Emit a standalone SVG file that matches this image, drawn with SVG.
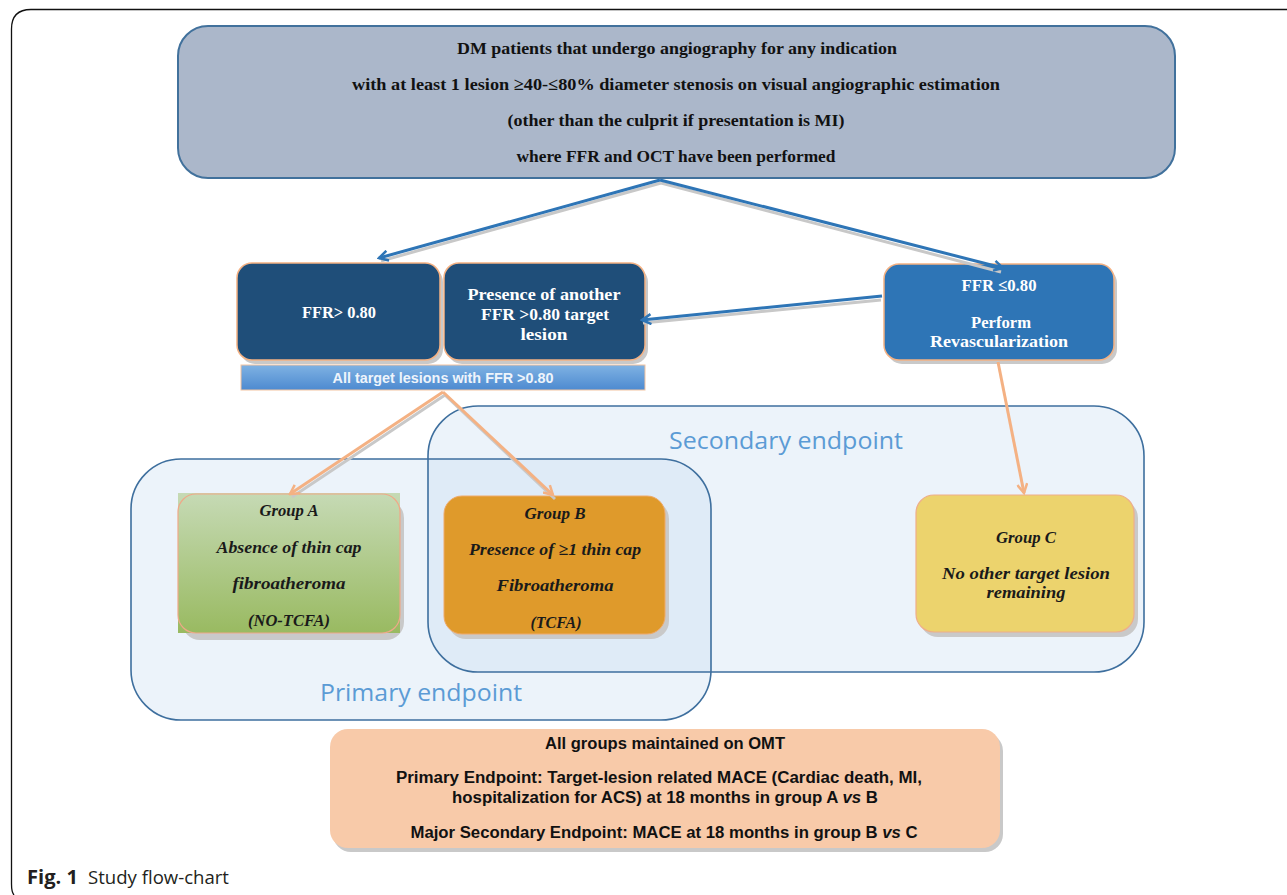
<svg xmlns="http://www.w3.org/2000/svg" width="1287" height="895" viewBox="0 0 1287 895">
<defs>
<style>
.serifb{font-family:"Liberation Serif","DejaVu Serif",serif;font-weight:bold;}
.serifbi{font-family:"Liberation Serif","DejaVu Serif",serif;font-weight:bold;font-style:italic;fill:#1a1a1a;font-size:17px;}
.sansb{font-family:"Liberation Sans",Arial,sans-serif;font-weight:bold;}
.end{font-family:"Open Sans","Liberation Sans",sans-serif;fill:#5b9bd5;font-size:24px;}
.blueline{fill:none;stroke:#2e75b6;stroke-width:3;}
.orangeline{fill:none;stroke:#f4b183;stroke-width:3;}
.shadowline{fill:none;stroke:#c8c8c8;stroke-width:3;}
.shadow{fill:#c9c9c9;}
.endbox{fill:#c9dcf0;fill-opacity:0.35;stroke:none;}
.endstroke{fill:none;stroke:#3e6f9e;stroke-width:1.6;}
.darkbox{fill:#1f4e79;stroke:#f4b183;stroke-width:1.5;}
</style>
<marker id="ab" viewBox="0 0 12 12" refX="10" refY="6" markerWidth="12" markerHeight="12" markerUnits="userSpaceOnUse" orient="auto">
<path d="M1,1 L10,6 L1,11" fill="none" stroke="#2e75b6" stroke-width="2.5"/>
</marker>
<marker id="ao" viewBox="0 0 12 12" refX="10" refY="6" markerWidth="12" markerHeight="12" markerUnits="userSpaceOnUse" orient="auto">
<path d="M1,1 L10,6 L1,11" fill="none" stroke="#f4b183" stroke-width="2.5"/>
</marker>
<linearGradient id="gbar" x1="0" y1="0" x2="0" y2="1">
<stop offset="0" stop-color="#7fb2e3"/>
<stop offset="1" stop-color="#4d8ad0"/>
</linearGradient>
<linearGradient id="ggreen" x1="0" y1="0" x2="0" y2="1">
<stop offset="0" stop-color="#c6dab5"/>
<stop offset="1" stop-color="#99ba61"/>
</linearGradient>
</defs>

<rect width="1287" height="895" fill="#ffffff"/>

<!-- frame -->
<path d="M1287,9.5 H31 Q11.5,9.5 11.5,29 V884 Q11.5,892 14,895" fill="none" stroke="#111" stroke-width="1.3"/>

<!-- endpoint regions -->
<g id="secondary-endpoint">
<rect class="endbox" x="428" y="406" width="716" height="266" rx="50"/>
</g>
<g id="primary-endpoint">
<rect class="endbox" x="131" y="459" width="580" height="261" rx="50"/>
</g>
<rect class="endstroke" x="428" y="406" width="716" height="266" rx="50"/>
<rect class="endstroke" x="131" y="459" width="580" height="261" rx="50"/>
<text class="end" x="786" y="449" text-anchor="middle" textLength="234" lengthAdjust="spacingAndGlyphs">Secondary endpoint</text>
<text class="end" x="421" y="701" text-anchor="middle" textLength="202" lengthAdjust="spacingAndGlyphs">Primary endpoint</text>

<!-- top box -->
<g id="top">
<rect x="178" y="26" width="997" height="152" rx="30" fill="#abb7ca" stroke="#41719c" stroke-width="2"/>
<text class="serifb" font-size="17.5" fill="#111" text-anchor="middle" x="677" y="54" textLength="440" lengthAdjust="spacingAndGlyphs">DM patients that undergo angiography for any indication</text>
<text class="serifb" font-size="17.5" fill="#111" text-anchor="middle" x="676" y="90" textLength="648" lengthAdjust="spacingAndGlyphs">with at least 1 lesion ≥40-≤80% diameter stenosis on visual angiographic estimation</text>
<text class="serifb" font-size="17.5" fill="#111" text-anchor="middle" x="676" y="126" textLength="337" lengthAdjust="spacingAndGlyphs">(other than the culprit if presentation is MI)</text>
<text class="serifb" font-size="17.5" fill="#111" text-anchor="middle" x="676" y="162" textLength="319" lengthAdjust="spacingAndGlyphs">where FFR and OCT have been performed</text>
</g>

<!-- FFR > 0.80 -->
<g id="ffr-gt">
<rect class="shadow" x="240" y="267" width="203" height="97" rx="15"/>
<rect class="darkbox" x="237" y="263" width="203" height="97" rx="15"/>
<text class="serifb" font-size="17" fill="#fff" text-anchor="middle" x="339" y="318" textLength="74" lengthAdjust="spacingAndGlyphs">FFR&gt; 0.80</text>
</g>

<g id="presence">
<rect class="shadow" x="447" y="267" width="201" height="97" rx="15"/>
<rect class="darkbox" x="444" y="263" width="201" height="97" rx="15"/>
<text class="serifb" font-size="17" fill="#fff" text-anchor="middle" x="544" y="300" textLength="153" lengthAdjust="spacingAndGlyphs">Presence of another</text>
<text class="serifb" font-size="17" fill="#fff" text-anchor="middle" x="545" y="320" textLength="128" lengthAdjust="spacingAndGlyphs">FFR &gt;0.80 target</text>
<text class="serifb" font-size="17" fill="#fff" text-anchor="middle" x="544" y="340" textLength="47" lengthAdjust="spacingAndGlyphs">lesion</text>
</g>

<g id="all-target">
<rect x="241" y="365" width="404" height="25" fill="url(#gbar)" stroke="#f4c4a0" stroke-width="1"/>
<text class="sansb" font-size="14" fill="#eef4fb" text-anchor="middle" x="443" y="383" textLength="221" lengthAdjust="spacingAndGlyphs">All target lesions with FFR &gt;0.80</text>
</g>

<g id="ffr-le">
<rect class="shadow" x="887" y="268" width="230" height="96" rx="15"/>
<rect x="884" y="264" width="230" height="96" rx="15" fill="#2e75b6" stroke="#f4b183" stroke-width="1.5"/>
<text class="serifb" font-size="17" fill="#fff" text-anchor="middle" x="999" y="291" textLength="75" lengthAdjust="spacingAndGlyphs">FFR ≤0.80</text>
<text class="serifb" font-size="17" fill="#fff" text-anchor="middle" x="1001" y="328" textLength="60" lengthAdjust="spacingAndGlyphs">Perform</text>
<text class="serifb" font-size="17" fill="#fff" text-anchor="middle" x="999" y="347" textLength="138" lengthAdjust="spacingAndGlyphs">Revascularization</text>
</g>

<!-- groups -->
<g id="group-a">
<rect class="shadow" x="182" y="500" width="222" height="140" rx="18"/>
<rect x="178" y="493" width="222" height="140" fill="url(#ggreen)"/>
<rect x="178" y="494" width="222" height="139" rx="18" fill="none" stroke="#f0a888" stroke-width="1.2"/>
<text class="serifbi" text-anchor="middle" x="289" y="516" textLength="59" lengthAdjust="spacingAndGlyphs">Group A</text>
<text class="serifbi" text-anchor="middle" x="289" y="553" textLength="145" lengthAdjust="spacingAndGlyphs">Absence of thin cap</text>
<text class="serifbi" text-anchor="middle" x="289" y="589" textLength="113" lengthAdjust="spacingAndGlyphs">fibroatheroma</text>
<text class="serifbi" text-anchor="middle" x="289" y="626" textLength="82" lengthAdjust="spacingAndGlyphs">(NO-TCFA)</text>
</g>

<g id="group-b">
<rect class="shadow" x="448" y="501" width="221" height="138" rx="18"/>
<rect x="444" y="496" width="221" height="138" rx="18" fill="#df9a2b" stroke="#efaa6a" stroke-width="1"/>
<text class="serifbi" text-anchor="middle" x="555" y="519" textLength="61" lengthAdjust="spacingAndGlyphs">Group B</text>
<text class="serifbi" text-anchor="middle" x="555" y="555" textLength="172" lengthAdjust="spacingAndGlyphs">Presence of ≥1 thin cap</text>
<text class="serifbi" text-anchor="middle" x="555" y="591" textLength="117" lengthAdjust="spacingAndGlyphs">Fibroatheroma</text>
<text class="serifbi" text-anchor="middle" x="556" y="628" textLength="51" lengthAdjust="spacingAndGlyphs">(TCFA)</text>
</g>

<g id="group-c">
<rect class="shadow" x="920" y="500" width="218" height="137" rx="18"/>
<rect x="916" y="495" width="218" height="137" rx="18" fill="#ecd36d" stroke="#eeae8a" stroke-width="1.2"/>
<text class="serifbi" text-anchor="middle" x="1026" y="543" textLength="60" lengthAdjust="spacingAndGlyphs">Group C</text>
<text class="serifbi" text-anchor="middle" x="1026" y="579" textLength="168" lengthAdjust="spacingAndGlyphs">No other  target lesion</text>
<text class="serifbi" text-anchor="middle" x="1026" y="598" textLength="79" lengthAdjust="spacingAndGlyphs">remaining</text>
</g>

<!-- bottom box -->
<g id="summary">
<rect class="shadow" x="333" y="733" width="670" height="119" rx="18"/>
<rect x="330" y="729" width="670" height="119" rx="18" fill="#f8caa9"/>
<text class="sansb" font-size="16" fill="#111" text-anchor="middle" x="665" y="749" textLength="240" lengthAdjust="spacingAndGlyphs">All groups maintained on OMT</text>
<text class="sansb" font-size="16" fill="#111" text-anchor="middle" x="659" y="783" textLength="526" lengthAdjust="spacingAndGlyphs">Primary Endpoint: Target-lesion related MACE (Cardiac death, MI,</text>
<text class="sansb" font-size="16" fill="#111" text-anchor="middle" x="665" y="803" textLength="426" lengthAdjust="spacingAndGlyphs">hospitalization for ACS) at 18 months in group A <tspan font-style="italic">vs</tspan> B</text>
<text class="sansb" font-size="16" fill="#111" text-anchor="middle" x="664" y="838" textLength="507" lengthAdjust="spacingAndGlyphs">Major Secondary Endpoint: MACE at 18 months in group B <tspan font-style="italic">vs</tspan> C</text>
</g>

<!-- connectors -->
<g id="connectors">
<path class="shadowline" d="M661,183 L381,261"/>
<path class="shadowline" d="M661,183 L1001,272"/>
<path class="shadowline" d="M881,300 L643,323"/>
<path class="shadowline" d="M445,395 L292,497"/>
<path class="shadowline" d="M445,395 L555,499"/>
<path class="blueline" marker-end="url(#ab)" d="M660,180 L379,258"/>
<path class="blueline" marker-end="url(#ab)" d="M660,180 L1003,268"/>
<path class="blueline" marker-end="url(#ab)" d="M882,296 L642,320"/>
<path class="orangeline" marker-end="url(#ao)" d="M443,392 L290,494"/>
<path class="orangeline" marker-end="url(#ao)" d="M443,392 L553,495"/>
<path class="orangeline" marker-end="url(#ao)" d="M998,362 L1024,493"/>
</g>

<text x="27" y="884" font-family="'Open Sans','Liberation Sans',sans-serif" font-size="19" fill="#231f20" font-weight="bold" textLength="51" lengthAdjust="spacingAndGlyphs">Fig. 1</text>
<text x="88" y="884" font-family="'Open Sans','Liberation Sans',sans-serif" font-size="19" fill="#231f20" textLength="141" lengthAdjust="spacingAndGlyphs">Study flow-chart</text>
</svg>
